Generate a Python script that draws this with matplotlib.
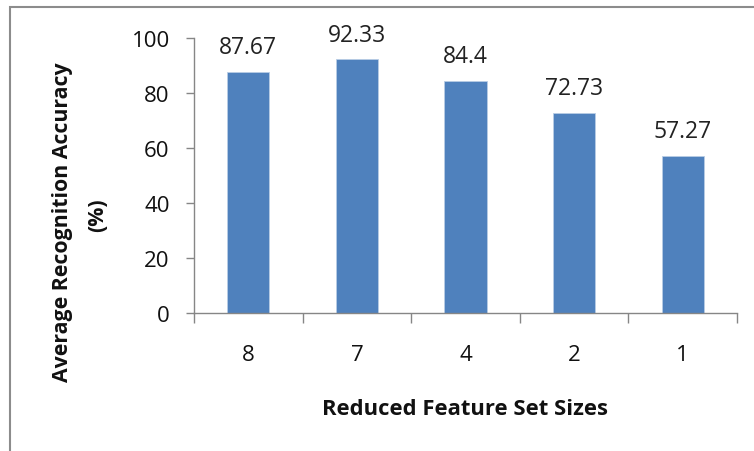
import numpy as np
import matplotlib
matplotlib.use('Agg')
import matplotlib.pyplot as plt
from matplotlib.patches import Rectangle

# data
sizes = ['8', '7', '4', '2', '1']
accuracy = [87.67, 92.33, 84.4, 72.73, 57.27]
value_labels = ['87.67', '92.33', '84.4', '72.73', '57.27']

plt.rcParams['font.family'] = ['Open Sans', 'DejaVu Sans']
axis_grey = '#868686'
bar_blue = '#4F81BD'

fig = plt.figure(figsize=(7.54, 4.52), dpi=100)
ax = fig.add_axes([194/754, 1-314/452, (737-194)/754, (314-39)/452])

x = np.arange(len(sizes))
ax.bar(x, accuracy, width=0.39, color=bar_blue, edgecolor='#B9CDE5', linewidth=0.6)

for xi, v, lab in zip(x, accuracy, value_labels):
	ax.annotate(lab, (xi, v), xytext=(0, 9), textcoords='offset points',
		ha='center', va='bottom', fontsize=16.5, color='#222222')

ax.set_xlim(-0.5, len(sizes)-0.5)
ax.set_ylim(0, 100)
ax.set_yticks(np.arange(0, 101, 20))
ax.tick_params(axis='y', direction='out', length=6, width=1, color=axis_grey,
	labelsize=16, pad=11.5, labelcolor='#111111')

# category ticks sit between the bars
ax.set_xticks(np.arange(-0.5, len(sizes), 1.0))
ax.set_xticklabels([])
ax.set_xticks(x, minor=True)
ax.set_xticklabels(sizes, minor=True)
ax.tick_params(axis='x', which='major', direction='out', length=7, width=1, color=axis_grey)
ax.tick_params(axis='x', which='minor', length=0, labelsize=16, pad=22, labelcolor='#111111')

for s in ['top', 'right']:
	ax.spines[s].set_visible(False)
for s in ['left', 'bottom']:
	ax.spines[s].set_color(axis_grey)
	ax.spines[s].set_linewidth(1)

fig.text(465/754, 1-410/452, 'Reduced Feature Set Sizes', ha='center', va='center',
	fontsize=15.8, fontweight='bold', color='#111111')
fig.text(63/754, 1-222/452, 'Average Recognition Accuracy', ha='center', va='center',
	rotation=90, fontsize=15.3, fontweight='bold', color='#111111')
fig.text(98/754, 1-215/452, '(%)', ha='center', va='center',
	rotation=90, fontsize=15.3, fontweight='bold', color='#111111')

# outer chart frame (only left and top are visible in the crop)
fig.patches.append(Rectangle((10/754, -0.05), 1.1, 1-8/452+0.05, transform=fig.transFigure,
	fill=False, edgecolor='#8C8C8C', linewidth=1.5))

fig.savefig('out.png', dpi=100)
plt.close('all')
